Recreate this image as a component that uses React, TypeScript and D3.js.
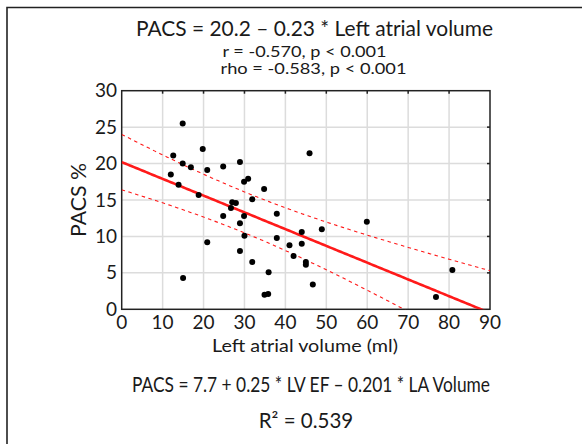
import React from "react";
import * as d3 from "d3";

const laVolume = [14.9, 12.6, 19.8, 14.9, 16.9, 20.9, 24.8, 28.9, 12.0, 13.9, 29.9, 30.9, 34.8, 18.8, 31.9, 27.0, 27.9, 26.7, 24.8, 29.9, 37.9, 28.9, 44.0, 45.9, 59.9, 48.9, 30.0, 20.9, 28.9, 37.9, 41.0, 42.0, 44.0, 45.0, 45.0, 31.9, 35.9, 15.0, 34.9, 35.8, 46.7, 80.8, 76.8];
const pacs = [25.5, 21.1, 22.0, 20.0, 19.5, 19.1, 19.6, 20.2, 18.5, 17.1, 17.5, 17.9, 16.5, 15.7, 15.1, 14.7, 14.6, 13.9, 12.8, 12.8, 13.1, 11.8, 10.6, 21.4, 12.0, 11.0, 10.1, 9.2, 8.0, 9.8, 8.8, 7.3, 9.0, 6.5, 6.1, 6.5, 5.1, 4.3, 2.0, 2.1, 3.4, 5.4, 1.7];

const xTicks = [0, 10, 20, 30, 40, 50, 60, 70, 80, 90];
const yTicks = [0, 5, 10, 15, 20, 25, 30];

// regression: intercept, slope
const fitCoef = [20.2, -0.23];
// confidence band half-width^2 = a + b (x - m)^2 : [m, a, b]
const bandCoef = [30.15, 7.91, 0.00718];

const titleText = "PACS = 20.2 \u2013 0.23 * Left atrial volume";
const statLines = ["r = -0.570, p < 0.001", "rho = -0.583, p < 0.001"];
const xLabel = "Left atrial volume (ml)";
const yLabel = "PACS %";
const footerLines = ["PACS = 7.7 + 0.25 * LV EF \u2013 0.201 * LA Volume", "R\u00b2 = 0.539"];

const W = 582;
const H = 444;
const L = 121.7, R = 490, T = 90.7, B = 309.3;
const FONT = "Lato, 'Open Sans', sans-serif";
const TXT = "#1a1a1a";

export default function App() {
  const x = d3.scaleLinear().domain([0, 90]).range([L, R]);
  const y = d3.scaleLinear().domain([0, 30]).range([B, T]);

  const fit = (v: number) => fitCoef[0] + fitCoef[1] * v;
  const hw = (v: number) => Math.sqrt(bandCoef[1] + bandCoef[2] * (v - bandCoef[0]) ** 2);
  const xs = d3.range(0, 90.01, 0.5);
  const line = d3.line<[number, number]>().x((d) => x(d[0])).y((d) => y(d[1]));
  const clipLine = (pts: [number, number][]) => pts.filter((p) => p[1] >= -0.5 && p[1] <= 30);

  const fitPts = clipLine(xs.map((v) => [v, fit(v)] as [number, number]));
  const upPts = clipLine(xs.map((v) => [v, fit(v) + hw(v)] as [number, number]));
  const loPts = clipLine(xs.map((v) => [v, fit(v) - hw(v)] as [number, number]));

  return (
    <svg width={W} height={H} style={{ position: "absolute", left: 0, top: 0, background: "#fff" }} fontFamily={FONT}>
      <defs>
        <clipPath id="plotclip">
          <rect x={L} y={T} width={R - L} height={B - T} />
        </clipPath>
      </defs>
      <path d={`M7,${H} V7.5 H${W}`} fill="none" stroke="#222" strokeWidth={1.6} />

      <text x={314.5} y={35.5} textAnchor="middle" fontSize={20.5} fill={TXT} textLength={357} lengthAdjust="spacingAndGlyphs">{titleText}</text>
      <text x={222.5} y={56.5} fontSize={15.5} fill={TXT} textLength={164} lengthAdjust="spacingAndGlyphs">{statLines[0]}</text>
      <text x={220.5} y={73.5} fontSize={15.5} fill={TXT} textLength={186} lengthAdjust="spacingAndGlyphs">{statLines[1]}</text>

      {/* grid */}
      {xTicks.slice(1, -1).map((t) => (
        <line key={"gx" + t} x1={x(t)} x2={x(t)} y1={T} y2={B} stroke="#dcdcdc" strokeWidth={1.5} />
      ))}
      {yTicks.slice(1, -1).map((t) => (
        <line key={"gy" + t} x1={L} x2={R} y1={y(t)} y2={y(t)} stroke="#dcdcdc" strokeWidth={1.5} />
      ))}

      {/* frame */}
      <rect x={L} y={T} width={R - L} height={B - T} fill="none" stroke="#222" strokeWidth={1.5} />
      {xTicks.slice(1, -1).map((t) => (
        <line key={"tx" + t} x1={x(t)} x2={x(t)} y1={T} y2={T + 3} stroke="#222" strokeWidth={1.5} />
      ))}
      {yTicks.slice(1, -1).map((t) => (
        <line key={"ty" + t} x1={R - 3} x2={R} y1={y(t)} y2={y(t)} stroke="#222" strokeWidth={1.5} />
      ))}

      {/* tick labels */}
      {yTicks.map((t) => (
        <text key={"ly" + t} x={117} y={y(t) + 6.5} textAnchor="end" fontSize={19} fill={TXT}>{t}</text>
      ))}
      {xTicks.map((t) => (
        <text key={"lx" + t} x={x(t)} y={328.5} textAnchor="middle" fontSize={19} fill={TXT}>{t}</text>
      ))}

      <text transform={`translate(86,200) rotate(-90)`} textAnchor="middle" fontSize={21} fill={TXT} textLength={74} lengthAdjust="spacingAndGlyphs">{yLabel}</text>
      <text x={305} y={352} textAnchor="middle" fontSize={17.5} fill={TXT} textLength={186} lengthAdjust="spacingAndGlyphs">{xLabel}</text>

      {/* lines */}
      <g clipPath="url(#plotclip)">
        <path d={line(upPts) || ""} fill="none" stroke="#ff1a1a" strokeWidth={1.1} strokeDasharray="3.5 3.5" />
        <path d={line(loPts) || ""} fill="none" stroke="#ff1a1a" strokeWidth={1.1} strokeDasharray="3.5 3.5" />
        <path d={line(fitPts) || ""} fill="none" stroke="#ff1a1a" strokeWidth={2.6} />
      </g>

      {/* points */}
      {laVolume.map((v, i) => (
        <circle key={"p" + i} cx={x(v)} cy={y(pacs[i])} r={3} fill="#000" />
      ))}

      <text x={311} y={392} textAnchor="middle" fontSize={20.5} fill={TXT} textLength={358} lengthAdjust="spacingAndGlyphs">{footerLines[0]}</text>
      <text x={306} y={428} textAnchor="middle" fontSize={20.5} fill={TXT}>{footerLines[1]}</text>
    </svg>
  );
}
